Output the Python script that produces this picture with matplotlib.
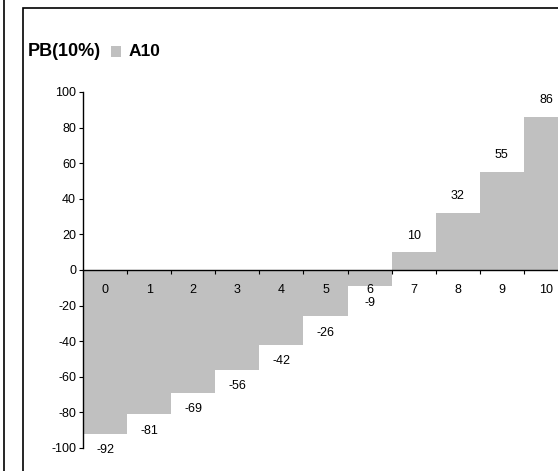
import matplotlib.pyplot as plt
from matplotlib.lines import Line2D
from matplotlib.patches import Rectangle
import numpy as np

plt.rcParams['font.family'] = ['Liberation Sans', 'DejaVu Sans']

# PB percentile buckets and the A10 values for each bucket
buckets = [0, 1, 2, 3, 4, 5, 6, 7, 8, 9, 10]
a10_values = [-92, -81, -69, -56, -42, -26, -9, 10, 32, 55, 86]
y_ticks = [-100, -80, -60, -40, -20, 0, 20, 40, 60, 80, 100]

title_text = "PB(10%)"
series_name = "A10"
bar_color = '#C0C0C0'

W, H = 558, 471
fig = plt.figure(figsize=(W / 100, H / 100), dpi=100)

# plot area (right edge runs slightly past the figure)
ax = fig.add_axes([83 / W, 23 / H, 485 / W, 356 / H])

x = np.arange(len(buckets))
ax.bar(x, a10_values, width=1.0, color=bar_color, edgecolor='none', zorder=1)

ax.set_xlim(-0.5, len(buckets) - 0.5)
ax.set_ylim(-100, 100)

# axis styling: left spine plus a zero line carrying the category labels
ax.spines[['top', 'right']].set_visible(False)
ax.spines['bottom'].set_position(('data', 0))
for sp in ('left', 'bottom'):
    ax.spines[sp].set_linewidth(1.0)
    ax.spines[sp].set_zorder(3)

ax.set_yticks(y_ticks)
ax.set_yticklabels([str(v) for v in y_ticks])
ax.tick_params(axis='y', direction='out', length=3, width=0.8, pad=2, labelsize=9)

ax.set_xticks(x)
ax.set_xticklabels([str(b) for b in buckets])
ax.set_xticks(np.arange(len(buckets)) + 0.5, minor=True)
ax.tick_params(axis='x', which='major', length=0, pad=10, labelsize=9)
ax.tick_params(axis='x', which='minor', direction='out', length=3, width=0.8)

# value labels: below negative bars, above positive ones
for xi, v in zip(x, a10_values):
    off = 12 if v >= 0 else -12
    ax.annotate(str(v), (xi, v), xytext=(0, off), textcoords='offset points',
                ha='center', va='center', fontsize=9)

# title and legend on the top-left
fig.text(28 / W, 1 - 51 / H, title_text, fontsize=13, fontweight='bold',
         ha='left', va='center')
fig.add_artist(Rectangle((111 / W, 1 - 57 / H), 10 / W, 11 / H,
                         transform=fig.transFigure, facecolor=bar_color,
                         edgecolor='none'))
fig.text(129 / W, 1 - 51 / H, series_name, fontsize=12.5, fontweight='bold',
         ha='left', va='center')

# panel frame and the edge of the neighbouring panel
fig.add_artist(Rectangle((23 / W, -0.1), 1.2, 1.1 - 8 / H,
                         transform=fig.transFigure, fill=False,
                         edgecolor='black', linewidth=1.2))
fig.add_artist(Line2D([4 / W, 4 / W], [0, 1], transform=fig.transFigure,
                      color='black', linewidth=1.2))

plt.savefig('out.png', dpi=100)
plt.close(fig)
